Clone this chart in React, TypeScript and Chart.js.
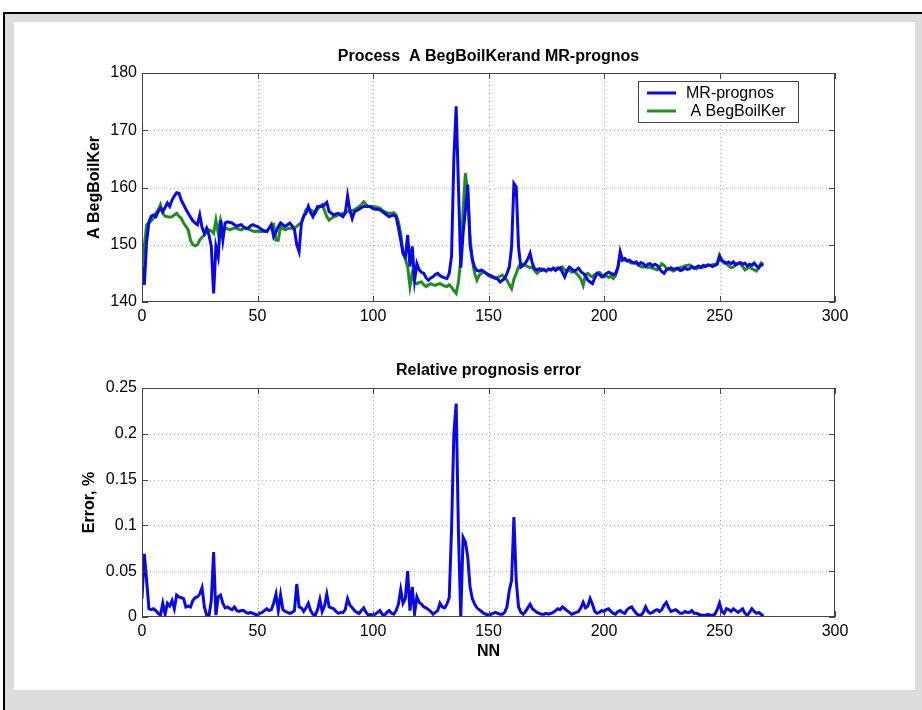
import React, { useEffect, useRef } from 'react';
import { Chart, registerables } from 'chart.js';

Chart.register(...registerables);

// ---------------- data ----------------
const NN: number[] = Array.from({ length: 270 }, (_, i) => i);

const xTickValues = [0, 50, 100, 150, 200, 250, 300];
const topYTickValues = [140, 150, 160, 170, 180];
const errYTickValues = [0, 0.05, 0.1, 0.15, 0.2, 0.25];
const errYTickLabels = ['0', '0.05', '0.1', '0.15', '0.2', '0.25'];

const topTitle = 'Process  A BegBoilKerand MR-prognos';
const bottomTitle = 'Relative prognosis error';
const topYLabel = 'A BegBoilKer';
const bottomYLabel = 'Error, %';
const bottomXLabel = 'NN';
const seriesNames = ['MR-prognos', ' A BegBoilKer'];

const mrPrognos = [
  146.2, 143.0, 150.5, 154.0, 155.0, 155.2, 154.9, 155.8, 156.4, 155.8,
  156.5, 157.3, 156.7, 157.8, 158.5, 159.1, 159.0, 157.8, 157.0, 156.2,
  155.5, 154.8, 154.2, 153.8, 153.5, 155.2, 153.0, 152.0, 152.9, 151.7,
  149.7, 141.5, 149.7, 147.9, 154.3, 150.8, 153.8, 154.0, 153.9, 153.8,
  153.5, 153.2, 153.4, 153.5, 153.1, 152.9, 152.9, 153.3, 153.5, 153.3,
  153.2, 152.9, 152.6, 152.4, 152.3, 152.9, 153.5, 151.4, 152.2, 153.2,
  153.8, 153.5, 153.2, 153.5, 153.8, 153.3, 152.6, 150.0, 148.8, 153.8,
  155.0, 155.5, 156.7, 155.6, 154.9, 155.8, 156.7, 156.7, 156.7, 157.0,
  157.4, 155.8, 155.5, 155.2, 155.4, 155.5, 155.2, 154.9, 155.5, 158.5,
  156.0, 154.6, 155.8, 156.0, 156.2, 156.5, 156.7, 156.7, 156.7, 156.6,
  156.3, 156.2, 156.2, 156.1, 155.8, 155.5, 155.2, 154.9, 155.1, 155.2,
  154.9, 153.0, 150.8, 148.5, 147.9, 151.7, 146.2, 149.7, 143.8, 146.7,
  145.6, 145.2, 145.0, 144.2, 143.8, 144.2, 144.4, 144.8, 145.0, 144.6,
  144.4, 144.2, 144.1, 145.0, 148.0, 165.0, 174.2, 160.0, 146.0, 152.0,
  156.0, 160.5, 150.0, 147.5, 146.1, 145.5, 145.4, 145.6, 145.3, 145.0,
  144.8, 144.6, 144.4, 144.2, 144.0, 143.5, 143.8, 144.1, 145.0, 146.1,
  149.6, 160.7, 160.1, 149.6, 146.1, 146.4, 146.8, 147.5, 148.5, 146.7,
  145.8, 145.6, 145.8, 145.5, 145.7, 145.4, 145.8, 145.6, 145.9, 145.5,
  145.8, 146.0, 145.2, 144.4, 145.5, 146.1, 145.8, 145.4, 145.6, 145.9,
  145.3, 145.0, 144.6, 143.8, 143.5, 143.2, 144.2, 145.0, 144.8, 144.4,
  144.6, 145.0, 145.2, 145.0, 144.8, 145.0, 146.0, 148.8, 147.3, 147.6,
  147.2, 147.3, 147.0, 146.8, 147.0, 146.5, 146.9, 146.7, 146.2, 146.6,
  146.7, 146.3, 146.6, 146.4, 145.8, 145.3, 145.0, 145.6, 145.8, 146.0,
  145.7, 145.8, 145.9, 145.5, 145.6, 146.0, 145.7, 145.8, 146.2, 145.9,
  146.1, 146.3, 146.0, 146.4, 146.2, 146.5, 146.4, 146.2, 146.4, 146.6,
  147.9, 147.2, 147.0, 146.8, 147.0, 146.7, 147.0, 146.5, 146.7, 146.9,
  146.6, 146.8, 146.3, 146.6, 146.4, 146.8, 146.3, 146.0, 146.5, 146.4,
];

const begBoilKer = [
  145.6, 149.7, 153.5, 153.8, 154.2, 154.6, 155.5, 156.1, 157.0, 155.5,
  155.0, 154.9, 154.8, 154.9, 155.2, 155.5, 155.0, 154.6, 153.8, 153.2,
  152.6, 150.8, 150.0, 149.8, 150.0, 150.8, 151.3, 151.7, 152.3, 152.6,
  152.4, 152.0, 154.3, 152.0, 154.3, 152.6, 152.9, 152.8, 152.6, 152.8,
  152.9, 152.9, 152.7, 152.6, 152.8, 152.9, 152.7, 152.6, 152.4, 152.3,
  152.4, 152.3, 152.3, 152.4, 152.3, 152.8, 153.2, 153.5, 150.8, 150.8,
  153.2, 152.8, 152.6, 152.8, 152.9, 152.9, 152.9, 153.2, 153.6, 153.8,
  155.0, 156.1, 156.2, 156.1, 155.8, 155.5, 156.2, 156.7, 157.0, 156.0,
  154.9, 154.3, 154.6, 154.9, 155.0, 155.2, 155.3, 155.5, 155.6, 155.8,
  155.9, 156.0, 156.1, 156.4, 156.7, 157.0, 157.5, 157.0, 156.7, 156.7,
  156.7, 156.6, 156.5, 156.4, 156.0, 155.8, 155.6, 155.5, 155.5, 155.6,
  155.2, 154.0, 152.0, 148.5, 147.5, 146.2, 142.7, 145.0, 143.5, 143.2,
  143.4, 143.5, 143.0, 142.7, 143.0, 143.2, 143.0, 142.9, 143.1, 143.2,
  143.0, 142.8, 142.7, 143.0, 142.6, 142.0, 141.5, 143.5, 147.5, 156.0,
  162.5, 159.0, 151.4, 147.3, 145.0, 143.8, 144.7, 145.0, 145.3, 145.0,
  144.6, 144.4, 144.2, 144.1, 144.3, 144.5, 144.7, 144.2, 143.8, 143.0,
  142.3, 144.0, 145.0, 146.1, 146.7, 146.5, 146.4, 146.2, 146.0, 146.1,
  145.5, 145.0, 145.4, 145.8, 145.6, 145.4, 145.7, 145.6, 145.9, 145.8,
  146.0, 145.7, 146.1, 145.6, 145.3, 145.6, 145.2, 145.4, 145.0, 144.6,
  144.0, 142.9, 144.8, 145.0, 144.6, 144.4, 144.8, 145.0, 145.2, 144.8,
  144.4, 144.6, 144.3, 144.5, 144.1, 144.6, 146.0, 147.9, 147.6, 147.3,
  147.2, 147.0, 146.8, 146.9, 146.7, 146.4, 146.2, 146.1, 146.3, 146.0,
  146.1, 145.9, 145.8, 145.6, 146.0, 146.7, 146.4, 145.9, 145.8, 145.6,
  145.4, 145.6, 145.8, 146.0, 146.1, 146.3, 146.4, 146.5, 146.2, 146.0,
  145.8, 146.0, 146.2, 146.1, 146.3, 146.4, 146.4, 146.5, 146.6, 146.7,
  148.2, 147.4, 146.8, 146.7, 146.3, 146.0, 146.1, 146.5, 146.8, 146.7,
  146.2, 145.6, 145.9, 146.1, 145.8, 145.6, 145.4, 146.0, 146.8, 146.6,
];

const relError = [
  0.020, 0.069, 0.040, 0.009, 0.008, 0.009, 0.007, 0.004, 0.002, 0.015,
  0.003, 0.015, 0.012, 0.018, 0.009, 0.024, 0.022, 0.021, 0.020, 0.011,
  0.012, 0.011, 0.018, 0.021, 0.022, 0.025, 0.032, 0.011, 0.002, 0.001,
  0.018, 0.071, 0.002, 0.022, 0.024, 0.015, 0.010, 0.011, 0.009, 0.008,
  0.011, 0.007, 0.006, 0.007, 0.007, 0.005, 0.004, 0.005, 0.004, 0.003,
  0.002, 0.004, 0.005, 0.007, 0.009, 0.007, 0.008, 0.015, 0.025, 0.007,
  0.024, 0.008, 0.006, 0.005, 0.004, 0.005, 0.007, 0.036, 0.011, 0.010,
  0.006, 0.010, 0.015, 0.007, 0.003, 0.002, 0.008, 0.019, 0.006, 0.012,
  0.025, 0.011, 0.010, 0.009, 0.006, 0.004, 0.005, 0.005, 0.008, 0.020,
  0.013, 0.010, 0.007, 0.005, 0.004, 0.007, 0.010, 0.005, 0.002, 0.003,
  0.002, 0.003, 0.005, 0.007, 0.003, 0.002, 0.005, 0.007, 0.004, 0.003,
  0.007, 0.014, 0.030, 0.015, 0.020, 0.050, 0.007, 0.033, 0.004, 0.022,
  0.016, 0.014, 0.011, 0.010, 0.008, 0.006, 0.003, 0.005, 0.007, 0.015,
  0.011, 0.010, 0.014, 0.021, 0.095, 0.200, 0.233, 0.091, 0.000, 0.087,
  0.082, 0.066, 0.033, 0.020, 0.014, 0.010, 0.008, 0.006, 0.004, 0.003,
  0.002, 0.003, 0.004, 0.005, 0.004, 0.003, 0.003, 0.005, 0.011, 0.029,
  0.040, 0.109, 0.040, 0.011, 0.005, 0.003, 0.006, 0.010, 0.014, 0.009,
  0.007, 0.005, 0.004, 0.003, 0.003, 0.004, 0.003, 0.004, 0.005, 0.007,
  0.009, 0.008, 0.011, 0.009, 0.007, 0.005, 0.003, 0.004, 0.005, 0.006,
  0.010, 0.016, 0.010, 0.012, 0.020, 0.014, 0.006, 0.004, 0.005, 0.007,
  0.006, 0.008, 0.009, 0.006, 0.004, 0.003, 0.006, 0.007, 0.005, 0.004,
  0.008, 0.010, 0.011, 0.007, 0.004, 0.002, 0.002, 0.005, 0.011, 0.006,
  0.004, 0.005, 0.007, 0.008, 0.006, 0.008, 0.013, 0.016, 0.010, 0.006,
  0.007, 0.008, 0.006, 0.004, 0.004, 0.006, 0.005, 0.005, 0.007, 0.004,
  0.004, 0.003, 0.002, 0.002, 0.002, 0.003, 0.002, 0.002, 0.003, 0.008,
  0.015, 0.006, 0.004, 0.009, 0.008, 0.006, 0.009, 0.007, 0.005, 0.007,
  0.009, 0.004, 0.002, 0.005, 0.009, 0.006, 0.004, 0.005, 0.003, 0.001,
];

// ---------------- styles ----------------
const FONT = '"Liberation Sans", Arial, Helvetica, sans-serif';
const BLUE = '#0a0ae0';
const GREEN = '#228b22';
const AXIS = '#444444';
const GRID = '#a8a8a8';

type Legend = { x: number; y: number; w: number; h: number } | null;

function matlabPlugin(title: string, titleBaseline: number, legend: Legend) {
  return {
    id: 'matlabAxes',
    beforeDatasetsDraw(chart: any) {
      const { ctx, chartArea: a, scales } = chart;
      ctx.save();
      ctx.strokeStyle = GRID;
      ctx.lineWidth = 1;
      ctx.setLineDash([1, 3]);
      scales.x.ticks.forEach((t: any) => {
        const px = Math.round(scales.x.getPixelForValue(t.value)) + 0.5;
        if (px > a.left + 2 && px < a.right - 2) {
          ctx.beginPath();
          ctx.moveTo(px, a.top);
          ctx.lineTo(px, a.bottom);
          ctx.stroke();
        }
      });
      scales.y.ticks.forEach((t: any) => {
        const py = Math.round(scales.y.getPixelForValue(t.value)) + 0.5;
        if (py > a.top + 2 && py < a.bottom - 2) {
          ctx.beginPath();
          ctx.moveTo(a.left, py);
          ctx.lineTo(a.right, py);
          ctx.stroke();
        }
      });
      ctx.restore();
    },
    afterDatasetsDraw(chart: any) {
      const { ctx, chartArea: a, scales } = chart;
      ctx.save();
      ctx.setLineDash([]);
      ctx.strokeStyle = AXIS;
      ctx.lineWidth = 1;
      ctx.strokeRect(a.left + 0.5, a.top + 0.5, a.right - a.left - 1, a.bottom - a.top - 1);
      const tl = 6;
      ctx.beginPath();
      scales.x.ticks.forEach((t: any) => {
        const px = Math.round(scales.x.getPixelForValue(t.value)) + 0.5;
        ctx.moveTo(px, a.bottom);
        ctx.lineTo(px, a.bottom - tl);
        ctx.moveTo(px, a.top);
        ctx.lineTo(px, a.top + tl);
      });
      scales.y.ticks.forEach((t: any) => {
        const py = Math.round(scales.y.getPixelForValue(t.value)) + 0.5;
        ctx.moveTo(a.left, py);
        ctx.lineTo(a.left + tl, py);
        ctx.moveTo(a.right, py);
        ctx.lineTo(a.right - tl, py);
      });
      ctx.stroke();
      ctx.restore();
    },
    afterDraw(chart: any) {
      const { ctx, chartArea: a } = chart;
      ctx.save();
      ctx.fillStyle = '#000';
      ctx.font = `bold 16px ${FONT}`;
      ctx.textAlign = 'center';
      ctx.textBaseline = 'alphabetic';
      ctx.fillText(title, (a.left + a.right) / 2, titleBaseline);
      if (legend) {
        ctx.fillStyle = '#fff';
        ctx.fillRect(legend.x, legend.y, legend.w, legend.h);
        ctx.strokeStyle = AXIS;
        ctx.lineWidth = 1;
        ctx.strokeRect(legend.x + 0.5, legend.y + 0.5, legend.w - 1, legend.h - 1);
        const colors = [BLUE, GREEN];
        ctx.font = `16px ${FONT}`;
        ctx.textAlign = 'left';
        chart.data.datasets.forEach((ds: any, i: number) => {
          const ly = legend.y + 12 + i * 18;
          ctx.strokeStyle = colors[i];
          ctx.lineWidth = 3;
          ctx.beginPath();
          ctx.moveTo(legend.x + 9, ly);
          ctx.lineTo(legend.x + 38, ly);
          ctx.stroke();
          ctx.fillStyle = '#000';
          ctx.fillText(ds.label, legend.x + 48, ly + 5);
        });
      }
      ctx.restore();
    },
  };
}

function ticksFrom(values: number[]) {
  return (scale: any) => {
    scale.ticks = values.map((v) => ({ value: v }));
  };
}

const tickFont = { family: FONT, size: 16 };
const titleFont = { family: FONT, size: 16, weight: 'bold' as const };

export default function App() {
  const topRef = useRef<HTMLCanvasElement>(null);
  const botRef = useRef<HTMLCanvasElement>(null);

  useEffect(() => {
    const top = new Chart(topRef.current as HTMLCanvasElement, {
      type: 'line',
      data: {
        datasets: [
          {
            label: seriesNames[0],
            data: NN.map((n, i) => ({ x: n, y: mrPrognos[i] })),
            borderColor: BLUE,
            borderWidth: 3,
            pointRadius: 0,
            tension: 0,
            fill: false,
          },
          {
            label: seriesNames[1],
            data: NN.map((n, i) => ({ x: n, y: begBoilKer[i] })),
            borderColor: GREEN,
            borderWidth: 3,
            pointRadius: 0,
            tension: 0,
            fill: false,
          },
        ],
      },
      options: {
        responsive: false,
        animation: false,
        devicePixelRatio: 1,
        layout: { padding: { left: 82, right: 87, top: 73, bottom: 378 } },
        plugins: { legend: { display: false }, tooltip: { enabled: false }, title: { display: false } },
        scales: {
          x: {
            type: 'linear',
            min: 0,
            max: 300,
            afterBuildTicks: ticksFrom(xTickValues),
            grid: { display: false, drawTicks: false },
            border: { display: false },
            ticks: { padding: 5, color: '#000', font: tickFont, maxRotation: 0, autoSkip: false, callback: (v: any) => String(v) },
            afterFit: (s: any) => { s.height = 30; },
          },
          y: {
            type: 'linear',
            min: 140,
            max: 180,
            afterBuildTicks: ticksFrom(topYTickValues),
            grid: { display: false, drawTicks: false },
            border: { display: false },
            ticks: { padding: 5, color: '#000', font: tickFont, autoSkip: false, callback: (v: any) => String(v) },
            title: { display: true, text: topYLabel, color: '#000', font: titleFont, padding: { top: 3, bottom: 0 } },
            afterFit: (s: any) => { s.width = 60; },
          },
        },
      },
      plugins: [matlabPlugin(topTitle, 61, { x: 638, y: 81, w: 161, h: 42 })],
    } as any);

    const bot = new Chart(botRef.current as HTMLCanvasElement, {
      type: 'line',
      data: {
        datasets: [
          {
            label: bottomTitle,
            data: NN.map((n, i) => ({ x: n, y: relError[i] })),
            borderColor: BLUE,
            borderWidth: 3,
            pointRadius: 0,
            tension: 0,
            fill: false,
          },
        ],
      },
      options: {
        responsive: false,
        animation: false,
        devicePixelRatio: 1,
        layout: { padding: { left: 78, right: 87, top: 388, bottom: 45 } },
        plugins: { legend: { display: false }, tooltip: { enabled: false }, title: { display: false } },
        scales: {
          x: {
            type: 'linear',
            min: 0,
            max: 300,
            afterBuildTicks: ticksFrom(xTickValues),
            grid: { display: false, drawTicks: false },
            border: { display: false },
            ticks: { padding: 5, color: '#000', font: tickFont, maxRotation: 0, autoSkip: false, callback: (v: any) => String(v) },
            title: { display: true, text: bottomXLabel, color: '#000', font: titleFont, padding: { top: 0, bottom: 4 } },
            afterFit: (s: any) => { s.height = 48; },
          },
          y: {
            type: 'linear',
            min: 0,
            max: 0.25,
            afterBuildTicks: ticksFrom(errYTickValues),
            grid: { display: false, drawTicks: false },
            border: { display: false },
            ticks: { padding: 5, color: '#000', font: tickFont, autoSkip: false, callback: (_v: any, i: number) => errYTickLabels[i] },
            title: { display: true, text: bottomYLabel, color: '#000', font: titleFont, padding: { top: 2, bottom: 0 } },
            afterFit: (s: any) => { s.width = 64; },
          },
        },
      },
      plugins: [matlabPlugin(bottomTitle, 375, null)],
    } as any);

    return () => {
      top.destroy();
      bot.destroy();
    };
  }, []);

  return (
    <div style={{ position: 'absolute', left: 0, top: 0, width: 922, height: 710, background: '#fff', overflow: 'hidden' }}>
      <div
        style={{
          position: 'absolute', left: 3, top: 12, width: 919, height: 698,
          borderTop: '2px solid #000', borderLeft: '2px solid #000',
          background: '#dcdcdc', boxSizing: 'border-box',
        }}
      />
      <div style={{ position: 'absolute', left: 14, top: 22, width: 901, height: 668, background: '#fff' }} />
      <canvas ref={topRef} width={922} height={710} style={{ position: 'absolute', left: 0, top: 0 }} />
      <canvas ref={botRef} width={922} height={710} style={{ position: 'absolute', left: 0, top: 0 }} />
    </div>
  );
}
